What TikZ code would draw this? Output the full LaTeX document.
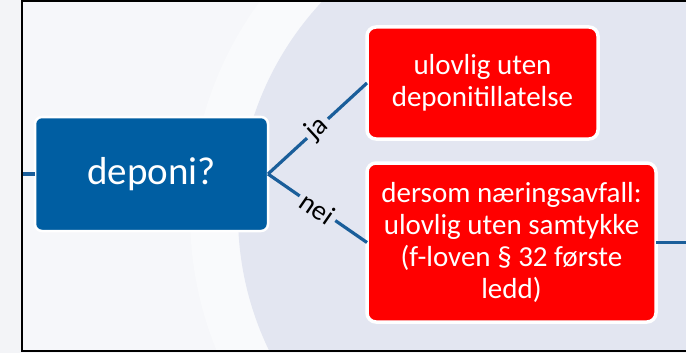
\documentclass[tikz,border=0pt]{standalone}
\usepackage{fontspec}
\setmainfont{Carlito}
\definecolor{outbg}{HTML}{F3F4F7}
\definecolor{inbg}{HTML}{F6F7FA}
\definecolor{bandbg}{HTML}{F9FAFC}
\definecolor{lavbg}{HTML}{E3E6F1}
\definecolor{boxblue}{HTML}{005EA2}
\definecolor{lineblue}{HTML}{1A5E9A}
\definecolor{boxred}{HTML}{FF0000}
\tikzset{
  qbox/.style={draw=white, line width=2.5pt, fill=boxblue, rounded corners=7pt,
    text=white, align=center, inner sep=0pt, outer sep=0pt,
    font=\fontsize{39}{44}\selectfont},
  rbox/.style={draw=white, line width=3.5pt, fill=boxred, rounded corners=9pt,
    text=white, align=center, inner sep=0pt, outer sep=0pt,
    font=\fontsize{29}{32}\selectfont},
  conn/.style={draw=lineblue, line width=3.2pt},
  lbl/.style={sloped, fill=lavbg, inner xsep=4pt, inner ysep=1pt, text=black,
    font=\fontsize{28}{30}\selectfont}
}
\begin{document}
\begin{tikzpicture}[x=1pt,y=-1pt]
\useasboundingbox (0,0) rectangle (686,353);
\fill[outbg] (0,0) rectangle (686,353);
\begin{scope}
  \clip (22,1) rectangle (686,351);
  \fill[inbg] (22,1) rectangle (686,351);
  \fill[bandbg] (550,214.6) circle (360pt);
  \fill[lavbg] (550,214.6) circle (312pt);
\end{scope}
\draw[line width=2pt, black] (686,1) -- (22,1) -- (22,351) -- (686,351);

\node[qbox, minimum width=233pt, minimum height=114pt] (q) at (151.5,174) {deponi?};
\node[rbox, minimum width=231pt, minimum height=112pt] (r1) at (482.5,83)
  {ulovlig uten\\deponitillatelse};
\node[rbox, minimum width=289pt, minimum height=159pt] (r2) at (511.5,242.5)
  {dersom næringsavfall:\\ulovlig uten samtykke\\(f-loven § 32 første\\ledd)};

\coordinate (lin) at (23,174);
\coordinate (rout) at (686,242.5);
\coordinate (j) at (q.east);

\draw[conn] (lin) -- (q.west);
\draw[conn] (j) -- node[lbl] {ja} (r1.west);
\draw[conn] (j) -- node[lbl] {nei} (r2.west);
\draw[conn] (r2.east) -- (rout);
\end{tikzpicture}
\end{document}
